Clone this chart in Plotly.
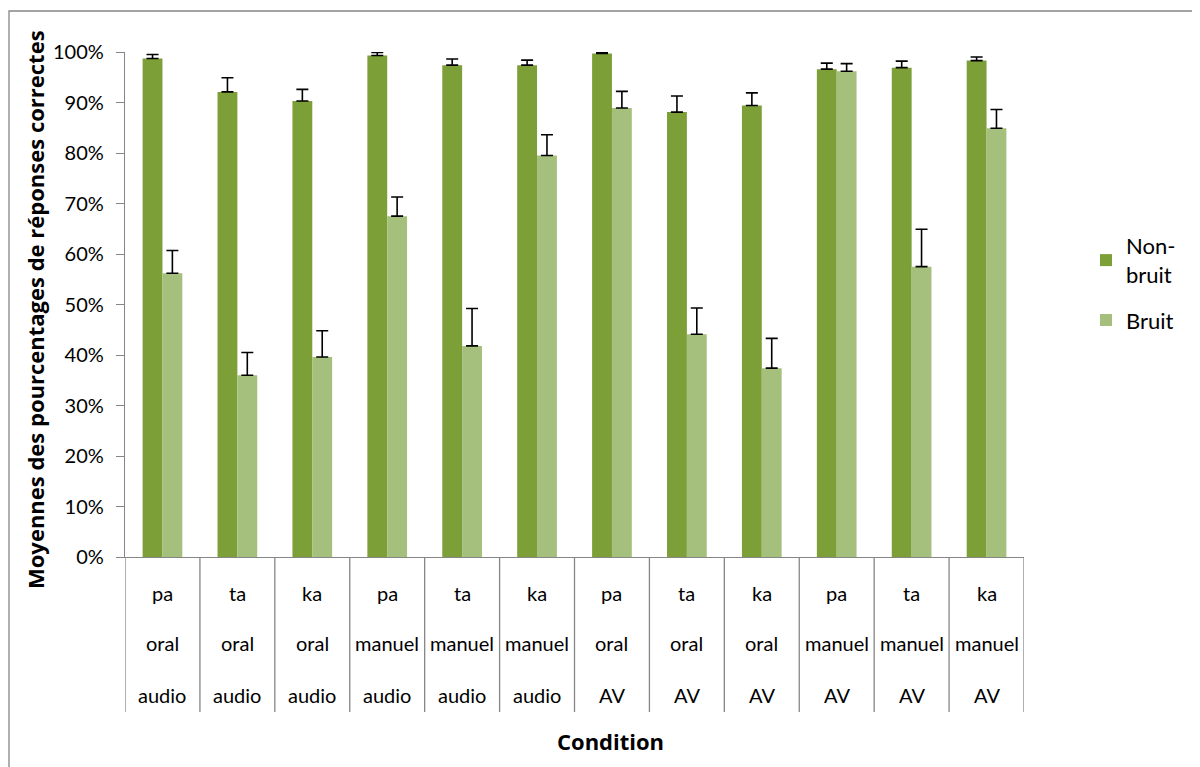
import plotly.graph_objects as go

# ---- data ----
syllabe = ["pa", "ta", "ka", "pa", "ta", "ka", "pa", "ta", "ka", "pa", "ta", "ka"]
articulation = ["oral", "oral", "oral", "manuel", "manuel", "manuel",
                "oral", "oral", "oral", "manuel", "manuel", "manuel"]
modalite = ["audio", "audio", "audio", "audio", "audio", "audio",
            "AV", "AV", "AV", "AV", "AV", "AV"]

non_bruit = [98.7, 92.1, 90.3, 99.3, 97.4, 97.4, 99.7, 88.1, 89.4, 96.6, 96.9, 98.3]
non_bruit_err = [0.8, 2.8, 2.3, 0.6, 1.2, 1.0, 0.3, 3.2, 2.5, 1.2, 1.3, 0.7]
bruit = [56.2, 36.0, 39.6, 67.5, 41.8, 79.5, 88.9, 44.1, 37.4, 96.2, 57.5, 84.9]
bruit_err = [4.5, 4.5, 5.2, 3.8, 7.4, 4.1, 3.3, 5.2, 5.9, 1.5, 7.4, 3.7]

series_names = ["Non-<br>bruit", "Bruit"]
y_ticks = [0, 10, 20, 30, 40, 50, 60, 70, 80, 90, 100]
y_title = "Moyennes des pourcentages de réponses correctes"
x_title = "Condition"

FONT = "Lato"
BOLD_FONT = "Open Sans"
OFF = 8  # page body margin
W, H = 1200 - OFF, 767 - OFF
# plot area in screen pixels
SL, SR, ST, SB = 125, 1024, 52, 557
L, T = SL - OFF, ST - OFF
R, B = W - (SR - OFF), H - (SB - OFF)
pw, ph = SR - SL, SB - ST

def px_x(x):
    return (x - SL) / pw

def px_y(y):
    return (SB - y) / ph

xs = list(range(len(syllabe)))

fig = go.Figure()
fig.add_trace(go.Bar(
    x=xs, y=[v / 100 for v in non_bruit], name=series_names[0],
    legendgroup="a",
    marker=dict(color="#7D9F37", line=dict(width=0)),
    error_y=dict(type="data", symmetric=False,
                 array=[e / 100 for e in non_bruit_err],
                 arrayminus=[0] * len(non_bruit_err),
                 color="black", thickness=1.6, width=6),
))
fig.add_trace(go.Bar(
    x=xs, y=[v / 100 for v in bruit], name=series_names[1],
    legendgroup="b",
    marker=dict(color="#A5BF7C", line=dict(width=0)),
    error_y=dict(type="data", symmetric=False,
                 array=[e / 100 for e in bruit_err],
                 arrayminus=[0] * len(bruit_err),
                 color="black", thickness=1.6, width=6),
))

shapes = []
# category dividers
for i in range(len(xs) + 1):
    shapes.append(dict(type="line", xref="x", yref="paper",
                       x0=i - 0.5, x1=i - 0.5, y0=0, y1=px_y(712),
                       line=dict(color="#868686", width=1.3)))
# outer chart border
shapes.append(dict(type="rect", xref="paper", yref="paper",
                   x0=px_x(9), x1=px_x(1230), y0=px_y(800), y1=px_y(11),
                   line=dict(color="#868686", width=1.3), layer="below"))

annotations = []
line_y = [593, 643, 695]
for i in xs:
    for row, txt in zip(line_y, [syllabe[i], articulation[i], modalite[i]]):
        annotations.append(dict(x=i, xref="x", y=px_y(row), yref="paper",
                                text=txt, showarrow=False,
                                font=dict(family=FONT, size=20, color="black"),
                                xanchor="center", yanchor="middle"))
annotations.append(dict(x=px_x(610), y=px_y(741), xref="paper", yref="paper",
                        text="<b>%s</b>" % x_title, showarrow=False,
                        font=dict(family=BOLD_FONT, size=22, color="black"),
                        xanchor="center", yanchor="middle"))
annotations.append(dict(x=px_x(35), y=px_y(310), xref="paper", yref="paper",
                        text="<b>%s</b>" % y_title, showarrow=False, textangle=-90,
                        font=dict(family=BOLD_FONT, size=22, color="black"),
                        xanchor="center", yanchor="middle"))

fig.update_layout(
    width=W, height=H,
    margin=dict(l=L, r=R, t=T, b=B),
    paper_bgcolor="white", plot_bgcolor="white",
    barmode="group", bargap=0.47, bargroupgap=0,
    font=dict(family=FONT, size=19, color="black"),
    showlegend=True,
    legend=dict(x=px_x(1086), y=px_y(225), xanchor="left", yanchor="top",
                font=dict(family=FONT, size=22, color="black"),
                tracegroupgap=14, bgcolor="rgba(0,0,0,0)"),
    shapes=shapes, annotations=annotations,
)
fig.update_xaxes(range=[-0.5, len(xs) - 0.5], showticklabels=False,
                 showline=True, linecolor="#868686", linewidth=1.3,
                 showgrid=False, zeroline=False, ticks="")
fig.update_yaxes(range=[0, 1], tickvals=[v / 100 for v in y_ticks],
                 ticktext=["%d%%" % v for v in y_ticks],
                 showline=True, linecolor="#868686", linewidth=1.3,
                 ticks="outside", ticklen=8, tickcolor="#868686", tickwidth=1.3,
                 ticklabelstandoff=8,
                 showgrid=False, zeroline=False,
                 tickfont=dict(family=FONT, size=20, color="black"))

fig.write_html("out.html")
